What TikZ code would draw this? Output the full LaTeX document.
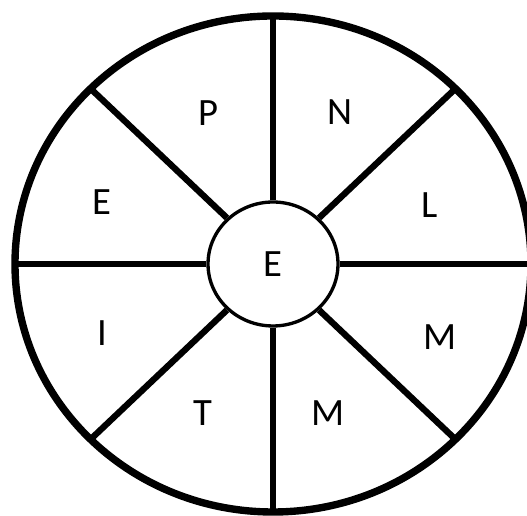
\documentclass[tikz,border=0pt]{standalone}
\usepackage{fontspec}
\setmainfont{Carlito}
\usepackage{tikz}
\usetikzlibrary{shapes.geometric, calc}

\begin{document}
\begin{tikzpicture}[
  x=0.02cm,
  y=0.02cm,
  rim/.style={
    draw,
    line width=4.2pt
  },
  spoke/.style={
    line width=3.6pt
  },
  hub/.style={
    ellipse,
    draw,
    line width=1.9pt,
    fill=white,
    minimum width=2.6cm,
    minimum height=2.48cm,
    inner sep=0pt,
    font=\fontsize{22}{25}\selectfont
  },
  sector/.style={
    font=\fontsize{22}{25}\selectfont
  }
]

% Frame
\clip (0,0) rectangle (527,516);

% Outer ring
\coordinate (c) at (273,252);
\draw[rim] (c) ellipse [x radius=258, y radius=248];

% Rim points
\foreach \a in {0,45,...,315}
  \coordinate (rim\a) at ($(c)+(\a:258 and 248)$);

% Centre
\node[hub] (hub) at (c) {E};

% Spokes
\foreach \a in {0,45,...,315}
  \draw[spoke] (hub.\a) -- (rim\a);

% Sector letters
\node[sector] (p)  at (208,403) {P};
\node[sector] (n)  at (340,404) {N};
\node[sector] (el) at (102,314) {E};
\node[sector] (l)  at (430,311) {L};
\node[sector] (i)  at (102,183) {I};
\node[sector] (mr) at (440,179) {M};
\node[sector] (t)  at (203,103) {T};
\node[sector] (mb) at (328,103) {M};

\end{tikzpicture}
\end{document}
